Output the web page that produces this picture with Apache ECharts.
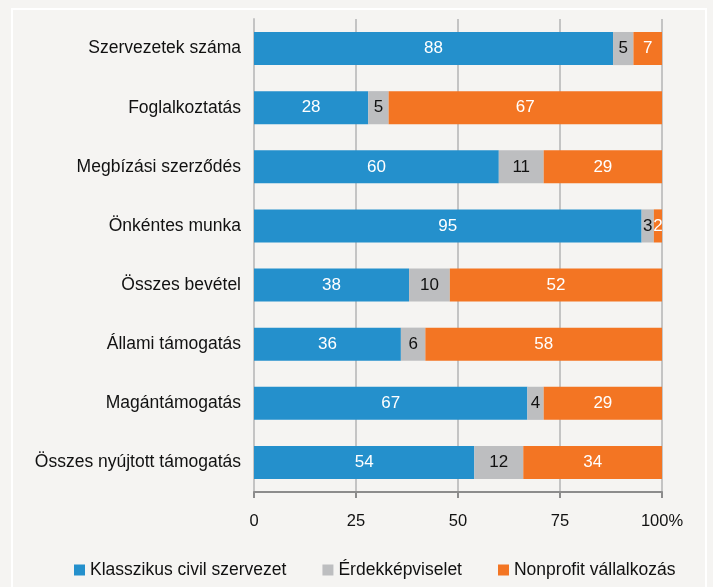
<!DOCTYPE html>
<html>
<head>
<meta charset="utf-8">
<script src="https://cdn.jsdelivr.net/npm/echarts@6/dist/echarts.min.js"></script>
<style>
  html, body { margin: 0; padding: 0; background: #f5f4f2; }
  #chart { width: 713px; height: 587px; }
</style>
</head>
<body>
<div id="chart"></div>
<script>
// kategóriák és értékek (%)
const categories = ['Szervezetek száma', 'Foglalkoztatás', 'Megbízási szerződés', 'Önkéntes munka',
  'Összes bevétel', 'Állami támogatás', 'Magántámogatás', 'Összes nyújtott támogatás']
const klasszikus = [88, 28, 60, 95, 38, 36, 67, 54]
const erdek = [5, 5, 11, 3, 10, 6, 4, 12]
const nonprofit = [7, 67, 29, 2, 52, 58, 29, 34]
const tickLabels = { 0: '0', 25: '25', 50: '50', 75: '75', 100: '100%' }

const font = '"Liberation Sans Narrow", "Liberation Sans", Arial, sans-serif'

const makeSeries = (name, data, color, labelColor) => ({
  name: name,
  type: 'bar',
  stack: 'total',
  barWidth: '56%',
  itemStyle: { color: color },
  label: {
    show: true,
    position: 'inside',
    color: labelColor,
    fontFamily: font,
    fontSize: 17
  },
  data: data
})

const chart = echarts.init(document.getElementById('chart'))
chart.setOption({
  backgroundColor: '#f5f4f2',
  animation: false,
  textStyle: { fontFamily: font },
  graphic: [{
    type: 'rect',
    shape: { x: 12, y: 9, width: 694, height: 590 },
    style: { fill: 'none', stroke: '#ffffff', lineWidth: 2 },
    silent: true
  }],
  grid: { left: 254, right: 51, top: 19, bottom: 95 },
  legend: {
    bottom: 3,
    left: 69,
    itemWidth: 11,
    itemHeight: 11,
    itemGap: 36,
    icon: 'rect',
    textStyle: { fontFamily: font, fontSize: 17.5, color: '#111' },
    data: ['Klasszikus civil szervezet', 'Érdekképviselet', 'Nonprofit vállalkozás']
  },
  xAxis: {
    type: 'value',
    min: 0,
    max: 100,
    interval: 25,
    axisLine: { show: true, lineStyle: { color: '#8c8c8c', width: 2 } },
    axisTick: { show: true, length: 6, lineStyle: { color: '#8c8c8c', width: 2 } },
    splitLine: { show: true, lineStyle: { color: '#c4c4c4', width: 2 } },
    axisLabel: {
      margin: 21,
      fontFamily: font,
      fontSize: 16.5,
      color: '#111',
      formatter: v => tickLabels[v]
    }
  },
  yAxis: {
    type: 'category',
    inverse: true,
    data: categories,
    axisLine: { show: true, lineStyle: { color: '#c4c4c4', width: 2 } },
    axisTick: { show: false },
    axisLabel: { margin: 13, fontFamily: font, fontSize: 17.5, color: '#111' }
  },
  series: [
    makeSeries('Klasszikus civil szervezet', klasszikus, '#2490cc', '#ffffff'),
    makeSeries('Érdekképviselet', erdek, '#bdbec0', '#111111'),
    makeSeries('Nonprofit vállalkozás', nonprofit, '#f37523', '#ffffff')
  ]
})
</script>
</body>
</html>
